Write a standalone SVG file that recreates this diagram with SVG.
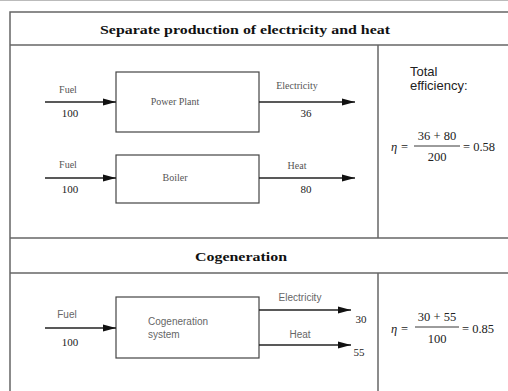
<svg xmlns="http://www.w3.org/2000/svg" width="508" height="391" viewBox="0 0 508 391">
  <defs>
    <marker id="arrow" markerWidth="13" markerHeight="8" refX="13" refY="4" orient="auto" markerUnits="userSpaceOnUse">
      <path d="M0,0.6 L13,4 L0,7.4 Z" fill="#111"/>
    </marker>
    <style>
      .frame { fill: none; stroke: #666; stroke-width: 1.5; }
      .box { fill: #fff; stroke: #444; stroke-width: 1.2; }
      .flow { stroke: #222; stroke-width: 1.3; fill: none; marker-end: url(#arrow); }
      .head { font-family: "Liberation Serif", serif; font-weight: bold; font-size: 13px; fill: #111; text-anchor: middle; }
      .lbl { font-family: "Liberation Serif", serif; font-size: 10px; fill: #555; text-anchor: middle; }
      .num { font-family: "Liberation Serif", serif; font-size: 11px; fill: #222; text-anchor: middle; }
      .sans { font-family: "Liberation Sans", sans-serif; font-size: 10px; fill: #666; }
      .eff { font-family: "Liberation Sans", sans-serif; font-size: 13px; fill: #222; }
      .math { font-family: "Liberation Serif", serif; font-size: 12.5px; fill: #222; }
    </style>
  </defs>

  <rect width="508" height="391" fill="#fff"/>
  <line x1="0" y1="0.5" x2="508" y2="0.5" stroke="#bbb" stroke-width="1"/>

  <!-- table frame -->
  <g id="frame">
    <path class="frame" d="M10,391 V12 H508"/>
    <line class="frame" x1="10" y1="45" x2="508" y2="45"/>
    <line class="frame" x1="378" y1="45" x2="378" y2="238"/>
    <line class="frame" x1="10" y1="238" x2="508" y2="238"/>
    <line class="frame" x1="10" y1="273" x2="508" y2="273"/>
    <line class="frame" x1="378" y1="273" x2="378" y2="391"/>
  </g>

  <text class="head" x="245" y="34" textLength="290" lengthAdjust="spacingAndGlyphs">Separate production of electricity and heat</text>
  <text class="head" x="241" y="261" textLength="92" lengthAdjust="spacingAndGlyphs">Cogeneration</text>

  <!-- nodes -->
  <g id="power-plant">
    <rect class="box" x="116" y="72" width="143" height="60"/>
    <text class="lbl" x="175" y="105">Power Plant</text>
  </g>
  <g id="boiler">
    <rect class="box" x="116" y="155" width="143" height="48"/>
    <text class="lbl" x="175" y="181">Boiler</text>
  </g>
  <g id="cogeneration-system">
    <rect class="box" x="116" y="297" width="143" height="61"/>
    <text class="sans" x="148" y="325">Cogeneration</text>
    <text class="sans" x="148" y="338">system</text>
  </g>

  <!-- connectors -->
  <g id="connectors">
    <line class="flow" x1="45" y1="102" x2="116" y2="102"/>
    <line class="flow" x1="259" y1="102" x2="355" y2="102"/>
    <line class="flow" x1="45" y1="178" x2="116" y2="178"/>
    <line class="flow" x1="259" y1="178" x2="355" y2="178"/>
    <line class="flow" x1="45" y1="328" x2="116" y2="328"/>
    <line class="flow" x1="259" y1="310" x2="351" y2="310"/>
    <line class="flow" x1="259" y1="345" x2="351" y2="345"/>
  </g>

  <!-- flow labels -->
  <g id="flow-labels">
    <text class="lbl" x="68" y="93">Fuel</text>
    <text class="num" x="70" y="117">100</text>
    <text class="lbl" x="297" y="89">Electricity</text>
    <text class="num" x="306" y="117">36</text>

    <text class="lbl" x="68" y="168">Fuel</text>
    <text class="num" x="70" y="193">100</text>
    <text class="lbl" x="297" y="169">Heat</text>
    <text class="num" x="306" y="193">80</text>

    <text class="sans" x="67" y="318" text-anchor="middle">Fuel</text>
    <text class="num" x="70" y="346">100</text>
    <text class="sans" x="300" y="301" text-anchor="middle">Electricity</text>
    <text class="num" x="361" y="323">30</text>
    <text class="sans" x="300" y="338" text-anchor="middle">Heat</text>
    <text class="num" x="359" y="356">55</text>
  </g>

  <!-- efficiency -->
  <g id="efficiency-separate">
    <text class="eff" x="410" y="76">Total</text>
    <text class="eff" x="410" y="90">efficiency:</text>
    <text class="math" x="391" y="151" font-style="italic">η</text>
    <text class="math" x="401" y="151">=</text>
    <text class="math" x="437" y="140" text-anchor="middle">36 + 80</text>
    <line x1="414" y1="146" x2="460" y2="146" stroke="#222" stroke-width="0.9"/>
    <text class="math" x="437" y="161" text-anchor="middle">200</text>
    <text class="math" x="463" y="151">= 0.58</text>
  </g>
  <g id="efficiency-cogeneration">
    <text class="math" x="391" y="333" font-style="italic">η</text>
    <text class="math" x="401" y="333">=</text>
    <text class="math" x="437" y="321" text-anchor="middle">30 + 55</text>
    <line x1="415" y1="327" x2="459" y2="327" stroke="#222" stroke-width="0.9"/>
    <text class="math" x="437" y="343" text-anchor="middle">100</text>
    <text class="math" x="462" y="333">= 0.85</text>
  </g>
</svg>
